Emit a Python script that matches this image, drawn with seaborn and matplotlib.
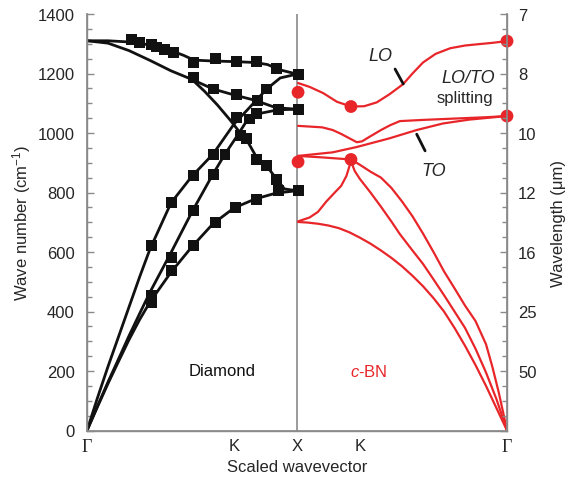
import numpy as np
import pandas as pd
import matplotlib
matplotlib.use("Agg")
import matplotlib.pyplot as plt
import seaborn as sns
from matplotlib.ticker import MultipleLocator
from matplotlib.transforms import blended_transform_factory

# ---------------- data ----------------
# Diamond branches (x: scaled wavevector 0=Gamma .. 10=X ; y: wave number cm-1)
d_O1_k = [0, 1, 2, 3, 4, 4.6, 5.1, 6, 7, 8, 8.6, 9.2, 10]
d_O1_w = [1310, 1310, 1306, 1296, 1277, 1261, 1245, 1242, 1240, 1237, 1230, 1212, 1198]
d_O2_k = [0, 1, 2, 3, 4, 5, 6, 7, 8, 9, 10]
d_O2_w = [1310, 1302, 1277, 1244, 1209, 1180, 1148, 1128, 1110, 1085, 1080]
d_O3_k = [5, 5.6, 6.2, 6.8, 7.3, 7.7, 8.1, 8.6, 9.0, 9.4, 10]
d_O3_w = [1180, 1140, 1095, 1045, 1000, 965, 915, 885, 848, 812, 806]
d_A1_k = [0, 0.5, 1, 1.5, 2, 2.5, 3, 4, 5, 6, 7, 7.6, 8.56, 9.2, 10]
d_A1_w = [0, 110, 215, 315, 415, 515, 610, 765, 855, 929, 1030, 1075, 1148, 1185, 1198]
d_A2_k = [0, 0.5, 1, 1.5, 2, 2.5, 3, 4, 5, 6, 6.57, 7.1, 7.6, 8.1, 9.1, 10]
d_A2_w = [0, 82, 163, 240, 318, 392, 465, 598, 735, 862, 929, 985, 1040, 1064, 1078, 1080]
d_A3_k = [0, 0.5, 1, 1.5, 2, 2.5, 3, 4, 5, 6, 7, 8, 9, 10]
d_A3_w = [0, 80, 158, 232, 305, 372, 432, 532, 618, 695, 748, 778, 798, 806]

# Diamond experimental points (squares)
sq_k = [2.13, 2.52, 3.08, 3.32, 3.71, 4.10, 5.06, 6.10, 7.13, 8.08, 9.03, 10.06,
        5.06, 6.01, 7.13, 8.14, 8.56, 9.10, 10.06, 7.13, 7.76, 8.08, 7.29, 7.60,
        6.01, 6.57, 8.08, 8.56, 9.03, 9.10, 10.06,
        3.08, 4.03, 5.06, 6.01, 5.06, 4.03, 4.03, 3.08, 3.08, 5.06, 6.10, 7.05, 8.08]
sq_w = [1314, 1304, 1299, 1289, 1282, 1272, 1238, 1249, 1240, 1240, 1217, 1198,
        1187, 1148, 1128, 1108, 1148, 1078, 1080, 1053, 1047, 1064, 991, 980,
        929, 929, 912, 890, 845, 806, 806,
        621, 767, 856, 862, 739, 582, 537, 453, 431, 621, 700, 750, 778]

# c-BN branches (x: 10=X, 13=K, 20=Gamma)
b_LO_k = [10.05, 10.6, 11.25, 11.9, 12.57, 13.2, 13.8, 14.4, 15.05, 15.5, 16.0, 16.6, 17.3, 18.0, 18.56, 19.3, 20]
b_LO_w = [1168, 1155, 1134, 1105, 1089, 1090, 1103, 1130, 1164, 1200, 1237, 1266, 1285, 1294, 1298, 1303, 1309]
b_M_k = [10.05, 11.2, 11.7, 12.1, 12.5, 12.85, 13.1, 13.4, 14.0, 14.43, 14.9, 16, 17, 18, 19, 20]
b_M_w = [1024, 1019, 1010, 997, 982, 969, 972, 985, 1010, 1026, 1040, 1044, 1047, 1050, 1053, 1057]
b_TO_k = [10.05, 11.7, 12.85, 14.4, 15.7, 16.95, 18.2, 20]
b_TO_w = [923, 935, 953, 982, 1010, 1032, 1045, 1057]
b_D1_k = [10.05, 11.2, 12.57, 13.0, 13.5, 14.0, 14.5, 15.0, 15.5, 16.0, 16.5, 17.0, 17.5, 18.0,
          18.5, 19.0, 19.3, 19.6, 19.85, 20]
b_D1_w = [923, 918, 911, 893, 870, 850, 815, 770, 720, 662, 600, 535, 478, 420,
          368, 290, 215, 130, 50, 0]
b_D2_k = [10.05, 10.6, 11.0, 11.4, 11.8, 12.1, 12.35, 12.57, 12.75, 13.0, 13.5, 14.0, 14.5,
          14.9, 15.5, 16.0, 16.5, 17.0, 17.5, 18.0, 18.5, 19.0, 19.5, 20]
b_D2_w = [703, 716, 735, 770, 800, 822, 855, 905, 872, 845, 800, 752, 702,
          660, 605, 560, 508, 455, 400, 345, 275, 195, 105, 0]
b_D3_k = [10.05, 10.5, 11.0, 11.5, 12.0, 12.5, 13.0, 13.5, 14.0, 14.5, 15.0, 15.5, 16.0,
          16.5, 17.0, 17.5, 18.0, 18.5, 19.0, 19.5, 20]
b_D3_w = [701, 699, 695, 689, 680, 666, 648, 628, 605, 580, 552, 520, 485,
          445, 400, 345, 285, 220, 150, 75, 0]

# c-BN highlighted points (dots)
dot_k = [10.05, 10.05, 12.57, 12.57, 20, 20]
dot_w = [1137, 903, 1089, 911, 1309, 1057]

# pointer segments
lo_ptr_k = [14.67, 15.06]
lo_ptr_w = [1215, 1165]
to_ptr_k = [15.70, 16.10]
to_ptr_w = [996, 940]

# axis labels
k_pos = [0, 7, 10, 13, 20]
k_lab = ["Γ", "K", "X", "K", "Γ"]
w_ticks = [0, 200, 400, 600, 800, 1000, 1200, 1400]
lam_labels = ["", "50", "25", "16", "12", "10", "8", "7"]

# ---------------- build frames ----------------
def frame(branches):
    rows = []
    for name, ks, ws in branches:
        for k, w in zip(ks, ws):
            rows.append((name, k, w))
    return pd.DataFrame(rows, columns=["branch", "k", "w"])

df_d = frame([("O1", d_O1_k, d_O1_w), ("O2", d_O2_k, d_O2_w), ("O3", d_O3_k, d_O3_w),
              ("A1", d_A1_k, d_A1_w), ("A2", d_A2_k, d_A2_w), ("A3", d_A3_k, d_A3_w)])
df_b = frame([("LO", b_LO_k, b_LO_w), ("M", b_M_k, b_M_w), ("TO", b_TO_k, b_TO_w),
              ("D1", b_D1_k, b_D1_w), ("D2", b_D2_k, b_D2_w), ("D3", b_D3_k, b_D3_w)])
df_ptr = frame([("lo", lo_ptr_k, lo_ptr_w), ("to", to_ptr_k, to_ptr_w)])
df_sq = pd.DataFrame({"k": sq_k, "w": sq_w})
df_dot = pd.DataFrame({"k": dot_k, "w": dot_w})

# ---------------- style ----------------
sns.set_theme(style="white")
plt.rcParams["font.family"] = ["Liberation Sans", "DejaVu Sans"]
plt.rcParams["mathtext.fontset"] = "custom"
plt.rcParams["mathtext.rm"] = "Liberation Sans"
plt.rcParams["mathtext.it"] = "Liberation Sans:italic"

RED = "#e8262a"
GRAY = "#8a8a8a"
BLACK = "#111111"

fig = plt.figure(figsize=(5.68, 4.89), dpi=100)
ax = fig.add_axes([87 / 568, 57.5 / 489, 420 / 568, 416.5 / 489])

sns.lineplot(data=df_d, x="k", y="w", units="branch", estimator=None, sort=False,
             color=BLACK, lw=2.0, ax=ax, legend=False)
sns.lineplot(data=df_b, x="k", y="w", units="branch", estimator=None, sort=False,
             color=RED, lw=1.6, ax=ax, legend=False)
sns.lineplot(data=df_ptr, x="k", y="w", units="branch", estimator=None, sort=False,
             color=BLACK, lw=2.0, ax=ax, legend=False)
sns.scatterplot(data=df_sq, x="k", y="w", marker="s", s=62, color=BLACK,
                edgecolor="none", ax=ax, legend=False, zorder=4)
sns.scatterplot(data=df_dot, x="k", y="w", marker="o", s=85, color=RED,
                edgecolor="none", ax=ax, legend=False, zorder=4, clip_on=False)

ax.axvline(10, color=GRAY, lw=1.2, zorder=0)

ax.set_xlim(0, 20)
ax.set_ylim(0, 1400)

for s in ["left", "bottom", "right"]:
    ax.spines[s].set_color(GRAY)
    ax.spines[s].set_linewidth(1.0)
ax.spines["top"].set_visible(False)

# x ticks
ax.set_xticks([0, 5, 10, 15, 20])
ax.set_xticklabels([])
ax.xaxis.set_minor_locator(MultipleLocator(1))
ax.tick_params(axis="x", which="major", direction="in", length=6, color=GRAY, width=1)
ax.tick_params(axis="x", which="minor", direction="in", length=3.5, color=GRAY, width=1)
trans = blended_transform_factory(ax.transData, ax.transAxes)
for kp, kl in zip(k_pos, k_lab):
    if kl == "Γ":
        ax.text(kp, -0.017, kl, transform=trans, ha="center", va="top",
                fontsize=13, family=["Liberation Serif", "DejaVu Serif"])
    else:
        ax.text(kp, -0.017, kl, transform=trans, ha="center", va="top", fontsize=12)

# y ticks
ax.set_yticks(w_ticks)
ax.yaxis.set_minor_locator(MultipleLocator(50))
ax.tick_params(axis="y", which="major", direction="in", length=5, color=GRAY,
               width=1, labelsize=12, pad=9)
ax.tick_params(axis="y", which="minor", direction="in", length=3.5, color=GRAY, width=1)
ax.set_xlabel("Scaled wavevector", fontsize=12, labelpad=17)
ax.set_ylabel("Wave number (cm$^{-1}$)", fontsize=12, labelpad=3)

ax2 = ax.twinx()
ax2.set_ylim(0, 1400)
ax2.set_yticks(w_ticks)
ax2.set_yticklabels(lam_labels)
ax2.yaxis.set_minor_locator(MultipleLocator(50))
ax2.tick_params(axis="y", which="major", direction="in", length=5, color=GRAY,
                width=1, labelsize=12, pad=8)
ax2.tick_params(axis="y", which="minor", direction="in", length=3.5, color=GRAY, width=1)
for s in ["left", "bottom", "right"]:
    ax2.spines[s].set_color(GRAY)
ax2.spines["top"].set_visible(False)
ax2.set_ylabel("Wavelength (μm)", fontsize=12, labelpad=10)

# annotations
ax.text(13.95, 1262, "LO", fontsize=13, style="italic", ha="center", va="center")
ax.text(18.15, 1186, "LO/TO", fontsize=13, style="italic", ha="center", va="center")
ax.text(18.0, 1118, "splitting", fontsize=12, ha="center", va="center")
ax.text(16.5, 873, "TO", fontsize=13, style="italic", ha="center", va="center")
ax.text(6.45, 201, "Diamond", fontsize=12, ha="center", va="center", color=BLACK)
ax.text(13.4, 199, "$c$-BN", fontsize=12, ha="center", va="center", color=RED)

fig.savefig("out.png", dpi=100)
